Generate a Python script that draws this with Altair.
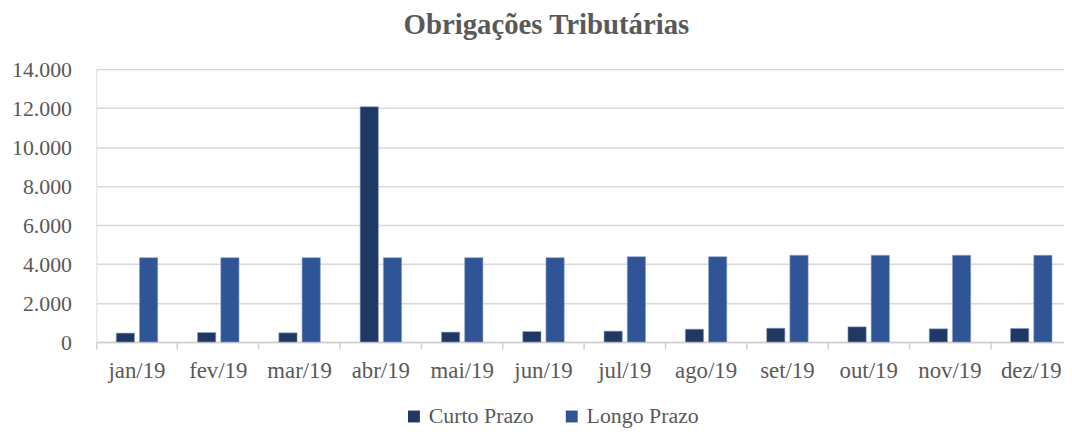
import altair as alt
import pandas as pd

months = ["jan/19", "fev/19", "mar/19", "abr/19", "mai/19", "jun/19",
          "jul/19", "ago/19", "set/19", "out/19", "nov/19", "dez/19"]
curto = [460, 490, 475, 12070, 510, 540, 560, 660, 710, 780, 680, 700]
longo = [4330, 4330, 4330, 4330, 4330, 4330, 4380, 4380, 4450, 4450, 4450, 4450]
series = ["Curto Prazo", "Longo Prazo"]
colors = ["#203864", "#2F5597"]

rows = []
for m, c, l in zip(months, curto, longo):
    rows.append({"mes": m, "serie": series[0], "valor": c})
    rows.append({"mes": m, "serie": series[1], "valor": l})
df = pd.DataFrame(rows)

FONT = "Liberation Serif"
GREY = "#595959"

bars = alt.Chart(df).mark_bar(stroke="#8FA3C8", strokeWidth=0.6).encode(
    x=alt.X("mes:N", sort=months, title=None,
            scale=alt.Scale(paddingInner=0, paddingOuter=0, range=[0, 983]),
            axis=alt.Axis(labelAngle=0, labelFont=FONT, labelFontSize=23,
                          labelColor=GREY, labelPadding=11,
                          domainColor="#D0D0D0", domainWidth=1.5,
                          tickColor="#D0D0D0", tickWidth=1.5,
                          tickSize=7, bandPosition=0, grid=False)),
    xOffset=alt.XOffset("serie:N", sort=series,
                        scale=alt.Scale(paddingInner=0.214, paddingOuter=0.857)),
    y=alt.Y("valor:Q", title=None,
            scale=alt.Scale(domain=[0, 14000]),
            axis=alt.Axis(values=list(range(0, 14001, 2000)),
                          labelExpr="replace(format(datum.value, ',d'), ',', '.')",
                          labelFont=FONT, labelFontSize=22, labelColor=GREY,
                          labelPadding=25, domain=False, ticks=False,
                          gridColor="#D9D9D9", gridWidth=1.5)),
    color=alt.Color("serie:N", sort=series, title=None,
                    scale=alt.Scale(domain=series, range=colors),
                    legend=alt.Legend(orient="none", legendX=309, legendY=339,
                                      direction="horizontal",
                                      labelFont=FONT, labelFontSize=22,
                                      labelColor=GREY, symbolType="square",
                                      symbolSize=144, symbolStrokeWidth=0,
                                      columnPadding=27, labelOffset=4)),
)

chart = bars.properties(
    width=975, height=275,
    autosize=alt.AutoSizeParams(type="none"),
    padding={"left": 89, "top": 60, "right": 0, "bottom": 85},
    title=alt.TitleParams("Obrigações Tributárias", font=FONT, fontSize=29,
                          fontWeight="bold", color=GREY, offset=18, dx=-34),
).configure_view(strokeWidth=0).configure_axisX(grid=False).configure(background="white")

chart.save("out.html", embed_options={"renderer": "svg", "actions": False})
